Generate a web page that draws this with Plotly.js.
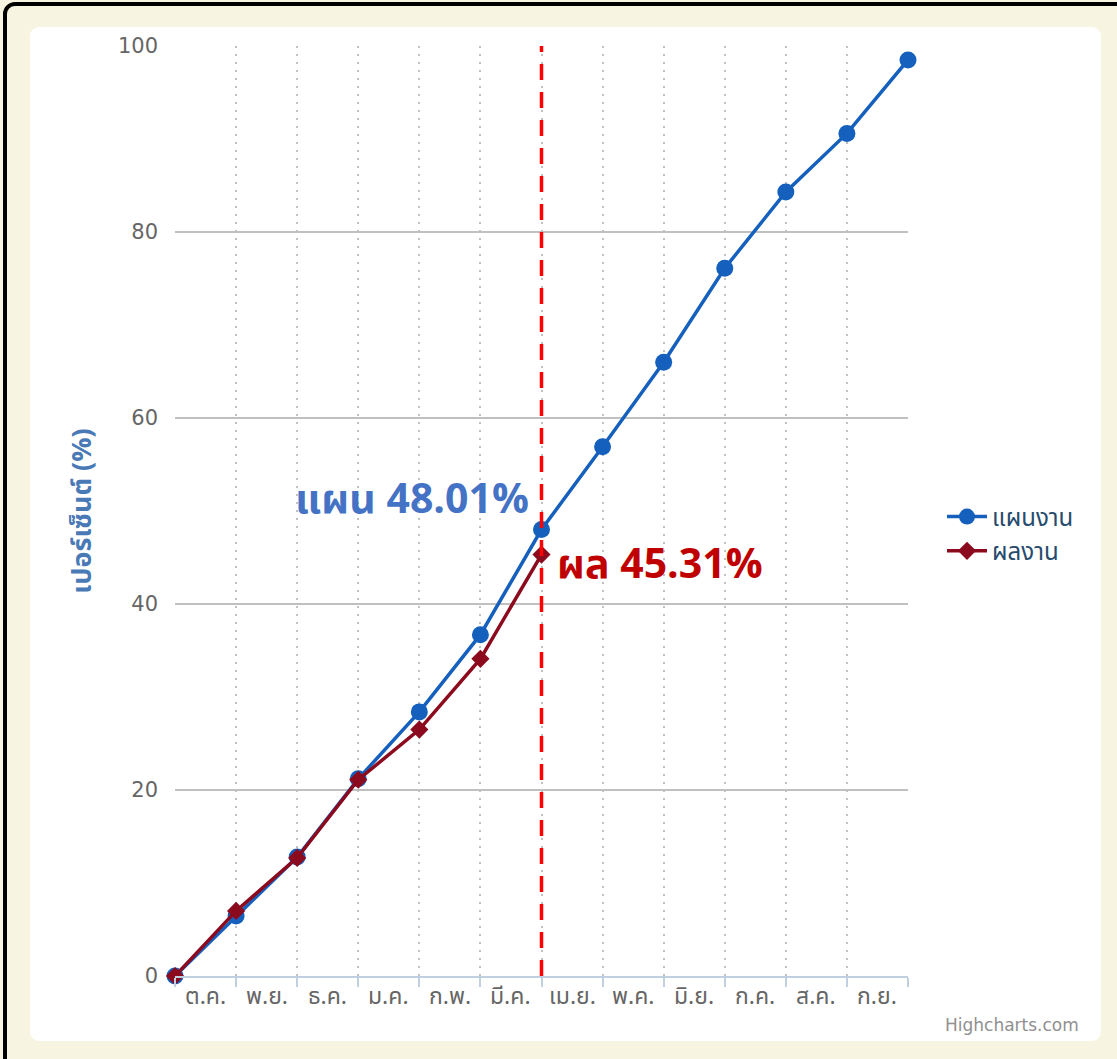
<!DOCTYPE html>
<html>
<head>
<meta charset="utf-8">
<script src="https://cdn.plot.ly/plotly-3.0.1.min.js"></script>
<style>
html,body{margin:0;padding:0;background:#f7f5e1;overflow:hidden;}
#wrap{position:relative;width:1117px;height:1059px;overflow:hidden;}
#outer{position:absolute;left:3px;top:2px;width:1130px;height:1080px;border:4px solid #000;border-radius:12px;background:#f7f5e1;box-sizing:border-box;}
#inner{position:absolute;left:30px;top:27px;width:1071px;height:1014px;border-radius:9px;background:#fff;}
#chart{position:absolute;left:0;top:0;width:1117px;height:1059px;}
</style>
</head>
<body>
<div id="wrap"><div id="outer"></div><div id="inner"></div><div id="chart"></div></div>
<script>
const months = ['ต.ค.','พ.ย.','ธ.ค.','ม.ค.','ก.พ.','มี.ค.','เม.ย.','พ.ค.','มิ.ย.','ก.ค.','ส.ค.','ก.ย.'];
const pointIndex = [0,1,2,3,4,5,6,7,8,9,10,11,12];
const planValues = [0,6.45,12.8,21.2,28.4,36.7,48.01,56.9,66.0,76.1,84.3,90.6,98.5];
const actualIndex = [0,1,2,3,4,5,6];
const actualValues = [0,7.0,12.7,21.1,26.5,34.1,45.31];
const yTicks = [0,20,40,60,80,100];
const currentIndex = 6;
const planLabel = 'แผน 48.01%';
const actualLabel = 'ผล 45.31%';
const labelPositions = months.map((m,i)=>i+0.5);

const thaiFont = '"Noto Sans Thai","Noto Sans","Open Sans","DejaVu Sans",sans-serif';

const W=1117,H=1059, L=175, R=209, T=46, B=83;
const pw=W-L-R, ph=H-T-B;
function px(x){return (x-L)/pw;}
function py(y){return (H-B-y)/ph;}

const traces = [
  {x: pointIndex, y: planValues, name: 'แผนงาน', mode: 'lines+markers', cliponaxis: false,
   line: {color: '#1560bd', width: 3.5}, marker: {symbol: 'circle', size: 17, color: '#1560bd'}},
  {x: actualIndex, y: actualValues, name: 'ผลงาน', mode: 'lines+markers', cliponaxis: false,
   line: {color: '#8b0a1e', width: 3.5}, marker: {symbol: 'diamond', size: 14, color: '#8b0a1e'}}
];

const annotations = months.map((m,i)=>({
  x: labelPositions[i], y: 0, xref: 'x', yref: 'paper', yshift: -40,
  text: m, showarrow: false, font: {family: thaiFont, size: 23, color: '#666666'}
}));
annotations.push({x: currentIndex, y: planValues[currentIndex], xref: 'x', yref: 'y', xanchor: 'right', yanchor: 'middle',
  xshift: -11, yshift: 30, text: '<b>'+planLabel+'</b>', showarrow: false,
  font: {family: thaiFont, size: 41, color: '#4472c4'}});
annotations.push({x: currentIndex, y: actualValues[currentIndex], xref: 'x', yref: 'y', xanchor: 'left', yanchor: 'middle',
  xshift: 13, yshift: -10, text: '<b>'+actualLabel+'</b>', showarrow: false,
  font: {family: thaiFont, size: 41, color: '#c00000'}});
annotations.push({x: px(1081), y: py(1025), xref: 'paper', yref: 'paper', xanchor: 'right', yanchor: 'middle',
  text: 'Highcharts.com', showarrow: false, font: {family: '"DejaVu Sans",sans-serif', size: 17, color: '#909090'}});

const shapes = [
  {type:'line', xref:'x', yref:'paper', x0: currentIndex, x1: currentIndex, y0: 0, y1: 1,
   line:{color:'#ff0000', width:3.5, dash:'16px,12px'}, layer:'above'}
];

const layout = {
  width: W, height: H,
  paper_bgcolor: 'rgba(0,0,0,0)', plot_bgcolor: 'rgba(0,0,0,0)',
  margin: {l: L, r: R, t: T, b: B},
  font: {family: thaiFont},
  xaxis: {range: [0,12], tickvals: pointIndex, ticktext: pointIndex.map(()=>''), showgrid: true,
    gridcolor: '#c0c0c0', griddash: '2px,6px', gridwidth: 2, zeroline: false,
    showline: true, linecolor: '#c0d0e0', linewidth: 2, ticks: 'outside', ticklen: 9, tickcolor: '#c0d0e0', tickwidth: 2,
    fixedrange: true},
  yaxis: {range: [0,100], tickvals: yTicks, showgrid: true, gridcolor: '#c0c0c0', gridwidth: 1.5,
    zeroline: false, showline: false, ticks: '', ticklabelstandoff: 16,
    tickfont: {family: '"DejaVu Sans",sans-serif', size: 21, color: '#666666'},
    title: {text: '<b>เปอร์เซ็นต์ (%)</b>', standoff: 18, font: {family: thaiFont, size: 27, color: '#4a7ab5'}}},
  legend: {x: px(942), y: py(534), xanchor: 'left', yanchor: 'middle', bgcolor: 'rgba(0,0,0,0)',
    font: {family: thaiFont, size: 24, color: '#274b6d'}, itemwidth: 40, tracegroupgap: 8},
  showlegend: true,
  annotations: annotations,
  shapes: shapes
};

Plotly.newPlot('chart', traces, layout, {displayModeBar: false, staticPlot: true});
</script>
</body>
</html>
